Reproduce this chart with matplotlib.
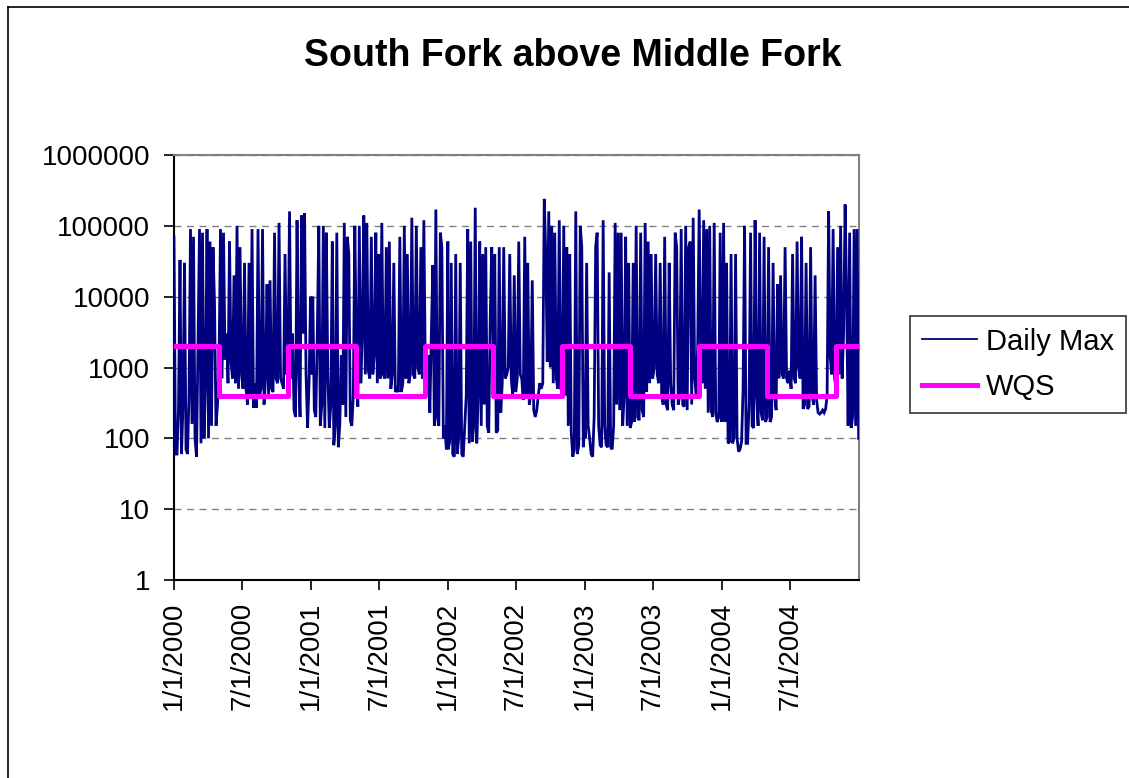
import pandas as pd
import matplotlib
matplotlib.use("Agg")
import matplotlib.pyplot as plt
from matplotlib.lines import Line2D
from matplotlib.ticker import FixedLocator, FixedFormatter, NullLocator

# Daily max counts, one reading every fourth day starting Jan 1 of each year
max_2000 = [70000, 60, 60, 250, 33000, 60, 300, 30000, 70, 60, 400, 90000, 160, 70000,
            100, 55, 2000, 90000, 85, 80000, 100, 600, 90000, 100, 60000, 150, 50000,
            8000, 150, 300, 1200, 90000, 700, 80000, 1300, 3000, 600, 60000, 1200, 700,
            20000, 600, 100000, 500, 50000, 800, 500, 30000, 500, 300, 30000, 400, 90000,
            270, 600, 270, 90000, 400, 500, 90000, 300, 700, 15000, 400, 17000, 500, 450,
            80000, 700, 600, 110000, 700, 600, 500, 40000, 800, 1500, 160000, 700, 3000,
            250, 200, 120000, 1000, 200, 140000, 3000, 150000, 800, 140, 600, 10000]
max_2001 = [800, 10000, 250, 200, 3000, 100000, 150, 300, 100000, 140, 80000, 800, 140,
            300, 60000, 80, 150, 80000, 75, 160, 1500, 300, 110000, 200, 70000, 40000, 180,
            150, 400, 100000, 2000, 280, 100000, 600, 3000, 140000, 800, 110000, 900, 700,
            70000, 800, 1500, 80000, 600, 40000, 700, 110000, 800, 700, 50000, 700, 60000,
            500, 800, 30000, 450, 500, 450, 70000, 450, 600, 100000, 700, 40000, 600, 800,
            130000, 800, 700, 100000, 1000, 800, 50000, 700, 120000, 800, 400, 1500, 230,
            3000, 28000, 150, 170000, 200, 150, 80000, 50000, 100, 150, 70, 60000]
max_2002 = [70, 90, 30000, 60, 55, 40000, 60, 100, 30000, 60, 55, 150, 400, 90000, 85,
            60000, 90, 150, 180000, 85, 400, 60000, 150, 40000, 300, 50000, 150, 120, 5000,
            50000, 1500, 40000, 120, 130, 50000, 230, 600, 50000, 700, 800, 1000, 40000,
            700, 400, 20000, 450, 700, 60000, 800, 700, 350, 70000, 400, 30000, 300, 400,
            17000, 250, 200, 250, 400, 600, 500, 600, 240000, 40000, 1200, 160000, 1000,
            100000, 600, 80000, 700, 500, 120000, 500, 450, 100000, 400, 50000, 150, 40000,
            120, 55, 70, 160000, 60, 80, 100000, 50000, 75, 150]
max_2003 = [100, 30000, 150, 100, 60, 55, 200, 50000, 80000, 150, 80, 75, 120000, 150, 80,
            75, 22000, 75, 70, 150, 110000, 300, 80000, 250, 80000, 150, 400, 70000, 150,
            30000, 140, 170, 30000, 170, 100000, 200, 180, 80000, 250, 200, 110000, 450,
            60000, 600, 40000, 700, 1000, 40000, 800, 600, 30000, 400, 300, 70000, 300, 250,
            30000, 600, 300, 250, 80000, 50000, 300, 400, 90000, 300, 280, 100000, 250,
            50000, 60000, 300, 130000, 700, 400, 2000, 170000, 1800, 600, 120000, 500, 90000,
            230, 100000, 250, 200, 110000, 230, 170, 200, 80000, 170]
max_2004 = [200, 110000, 170, 30000, 85, 90, 40000, 85, 100, 40000, 100, 65, 70, 90, 500,
            100000, 85, 85, 300, 80000, 150, 140, 120000, 400, 150, 80000, 230, 180, 70000,
            170, 200, 50000, 170, 200, 30000, 400, 250, 15000, 700, 20000, 800, 700, 50000,
            700, 600, 900, 500, 40000, 700, 600, 60000, 1000, 700, 70000, 260, 300, 30000,
            260, 280, 50000, 400, 300, 20000, 350, 230, 220, 230, 250, 230, 260, 400, 160000,
            1500, 800, 90000, 700, 500, 50000, 800, 100000, 700, 3000, 200000, 10000, 150,
            80000, 140, 200, 90000, 150, 90000, 100]
years = [2000, 2001, 2002, 2003, 2004]

# Water quality standard: winter / summer limits
wqs_starts = ["2000-01-01", "2000-05-01", "2000-11-01", "2001-05-01", "2001-11-01",
              "2002-05-01", "2002-11-01", "2003-05-01", "2003-11-01", "2004-05-01",
              "2004-11-01", "2004-12-31"]
wqs_values = [2000, 400, 2000, 400, 2000, 400, 2000, 400, 2000, 400, 2000, 2000]

y_ticks = [1, 10, 100, 1000, 10000, 100000, 1000000]
x_ticks = ["2000-01-01", "2000-07-01", "2001-01-01", "2001-07-01", "2002-01-01",
           "2002-07-01", "2003-01-01", "2003-07-01", "2004-01-01", "2004-07-01"]

plt.rcParams["font.family"] = ["Liberation Sans", "DejaVu Sans"]

dates, values = [], []
for yr, vals in zip(years, [max_2000, max_2001, max_2002, max_2003, max_2004]):
    dates.extend(pd.date_range(f"{yr}-01-01", periods=len(vals), freq="4D"))
    values.extend(vals)

fig = plt.figure(figsize=(11.29, 7.78), dpi=100)
ax = fig.add_axes([174 / 1129, 1 - 580 / 778, 685 / 1129, 425 / 778])

ax.plot(dates, values, color="#000080", lw=2.0, label="Daily Max", zorder=3,
        solid_joinstyle="miter")
ax.plot(pd.to_datetime(wqs_starts), wqs_values, drawstyle="steps-post",
        color="#FF00FF", lw=3.6, label="WQS", zorder=4)

ax.set_yscale("log")
ax.set_ylim(1, 1000000)
ax.yaxis.set_major_locator(FixedLocator(y_ticks))
ax.yaxis.set_major_formatter(FixedFormatter([str(v) for v in y_ticks]))
ax.yaxis.set_minor_locator(NullLocator())
ax.grid(axis="y", which="major", color="#808080", ls=(0, (5, 4)), lw=1.0)

ax.set_xlim(pd.Timestamp("2000-01-01"), pd.Timestamp("2004-12-31"))
xt = pd.to_datetime(x_ticks)
ax.set_xticks(xt)
ax.set_xticklabels([f"{d.month}/{d.day}/{d.year}" for d in xt], rotation=90)
ax.xaxis.set_minor_locator(NullLocator())

ax.tick_params(axis="both", labelsize=20, direction="out", length=7.2, width=1.2,
               color="black")
ax.tick_params(axis="y", pad=10)
ax.tick_params(axis="x", pad=8.5)
for side in ["top", "right"]:
    ax.spines[side].set_color("#808080")
    ax.spines[side].set_linewidth(1.5)
for side in ["left", "bottom"]:
    ax.spines[side].set_color("black")
    ax.spines[side].set_linewidth(1.5)

fig.text(573 / 1129, 1 - 56 / 778, "South Fork above Middle Fork", ha="center",
         va="center", fontsize=27, fontweight="bold")

leg = fig.legend(loc="upper left", bbox_to_anchor=(910 / 1129, 1 - 316 / 778),
                 fontsize=21, frameon=True, fancybox=False, edgecolor="black",
                 handlelength=1.9, handletextpad=0.3, borderpad=0.4, labelspacing=0.6,
                 borderaxespad=0)
leg.get_frame().set_linewidth(1.2)
leg.get_lines()[0].set_linewidth(1.3)

# chart outline along the top and left edges
fig.add_artist(Line2D([8 / 1129, 1], [1 - 7 / 778, 1 - 7 / 778], color="black", lw=1.2))
fig.add_artist(Line2D([8 / 1129, 8 / 1129], [0, 1 - 7 / 778], color="black", lw=1.2))

fig.savefig("out.png", dpi=100)
